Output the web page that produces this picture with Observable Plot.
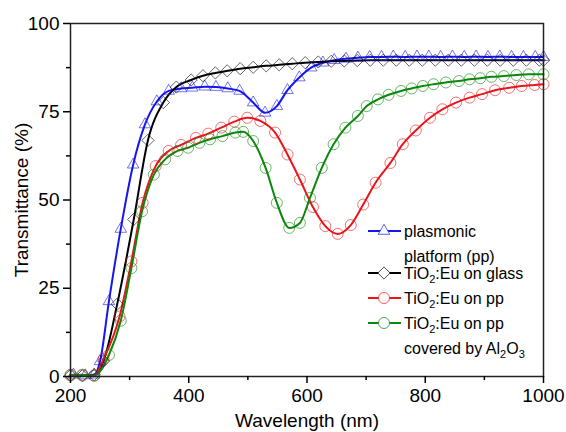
<!DOCTYPE html>
<html><head><meta charset="utf-8">
<script src="https://cdn.jsdelivr.net/npm/d3@7"></script>
<script src="https://cdn.jsdelivr.net/npm/@observablehq/plot@0.6"></script>
<style>
body{margin:0;background:#fff;font-family:"Liberation Sans",Arial,sans-serif;}
#wrap{position:relative;width:566px;height:432px;overflow:hidden;}
</style></head><body><div id="wrap"></div>
<script>
// Wavelength (nm) and transmittance (%) per series
const plasmonicWl = [205,225,240,250,265,285,306,326,346,366,387,406,427,446,466,486,509,529,549,567,587,607,627,646,666,686,706,726,746,766,786,806,826,846,866,886,906,926,946,966,986,1000];
const plasmonicT  = [0.5,0.3,0.5,4.3,21.3,41.8,60,71.4,77.9,80.9,81.6,81.8,82.1,82.0,81.6,80.9,77.6,74.7,76.6,81.1,84.7,87.5,88.9,89.6,90.0,90.3,90.5,90.5,90.6,90.5,90.6,90.6,90.5,90.6,90.5,90.6,90.5,90.6,90.5,90.5,90.5,90.5];

const glassWl = [200,220,240,256,279,307,331,357,379,404,424,445,465,487,509,531,553,575,597,619,641,663,685,707,729,751,773,795,817,839,861,883,905,927,949,971,993,1000];
const glassT  = [0.3,0.2,0.5,4.4,20.5,44.5,66.9,77.6,82,84,85.2,86.0,86.6,87.2,87.6,88.0,88.3,88.6,88.9,89.1,89.3,89.4,89.5,89.6,89.6,89.6,89.6,89.6,89.6,89.6,89.6,89.6,89.6,89.6,89.6,89.6,89.6,89.6];

const ppWl = [200,220,240,256,283,303,322,344,366,387,412,433,455,477,499,521,546,567,588,610,631,652,674,695,716,741,762,784,808,829,852,875,896,918,942,963,985,1000];
const ppT  = [0.5,0.3,0.3,5,17,32.6,49.2,59.6,63.9,65.6,67.6,68.8,70.5,72.2,73.3,72.4,69.1,62.9,55.8,48,42.6,40.4,42.9,48.7,54.9,60.5,65.8,69.7,73.3,75.7,77.6,79,80,81.1,81.8,82.3,82.6,82.8];

const alWl = [200,220,240,265,285,303,321,341,360,381,399,418,436,457,479,492,509,530,549,570,588,605,625,645,665,686,701,720,738,759,777,796,814,835,857,875,893,912,933,954,975,1000];
const alT  = [0.3,0.5,0.2,6.1,15.8,30.7,46.8,57.2,61.5,63.9,64.8,66.2,67.2,68.1,69.1,69.3,66.7,59.1,49.2,42.1,43.5,50.6,59.1,65.8,70.5,73.8,76.6,78.5,79.8,80.9,81.6,82.3,82.8,83.3,83.7,84.2,84.5,84.9,85.1,85.4,85.6,85.6];

const xTicks = [200,400,600,800,1000];
const xMinor = [300,500,700,900];
const yTicks = [0,25,50,75,100];
const yMinor = [12.5,37.5,62.5,87.5];

const series = [
  {key:"plasmonic", wl:plasmonicWl, t:plasmonicT, color:"#1515f0", symbol:"triangle2", sym:d3.symbolTriangle2},
  {key:"glass", wl:glassWl, t:glassT, color:"#000000", symbol:"diamond2", sym:d3.symbolDiamond2},
  {key:"pp", wl:ppWl, t:ppT, color:"#e8161b", symbol:"circle", sym:d3.symbolCircle},
  {key:"al", wl:alWl, t:alT, color:"#0c870c", symbol:"circle", sym:d3.symbolCircle}
];
const rows = s => s.wl.map((w,i)=>({wl:w, t:s.t[i]}));
const R = 5.5;
const fmt = d3.format("d");

const marks = [];
for (const s of series) {
  marks.push(Plot.lineY(rows(s), {x:"wl", y:"t", stroke:s.color, strokeWidth:2, curve:"monotone-x"}));
}
for (const s of series) {
  marks.push(Plot.dot(rows(s), {x:"wl", y:"t", stroke:s.color, strokeOpacity:0.6, strokeWidth:1, symbol:s.symbol, r:R}));
}
marks.push(Plot.frame({stroke:"#222", strokeWidth:1.5}));
marks.push(Plot.axisX(xTicks, {tickSize:7, tickPadding:5, strokeWidth:1.5, tickFormat:fmt, label:"Wavelength (nm)", labelAnchor:"center", labelOffset:50, labelArrow:"none", fontSize:19}));
marks.push(Plot.axisX(xMinor, {tickSize:4, strokeWidth:1.5, tickFormat:()=>"", label:null}));
marks.push(Plot.axisY(yTicks, {tickSize:7, tickPadding:4, strokeWidth:1.5, tickFormat:fmt, label:"Transmittance (%)", labelAnchor:"center", labelOffset:56, labelArrow:"none", fontSize:19}));
marks.push(Plot.axisY(yMinor, {tickSize:4, strokeWidth:1.5, tickFormat:()=>"", label:null}));

const chart = Plot.plot({
  width:566, height:432,
  marginLeft:70, marginRight:23, marginTop:23, marginBottom:56,
  style:{fontFamily:'"Liberation Sans", Arial, sans-serif', fontSize:"19px", color:"#000", background:"#fff", overflow:"visible"},
  x:{domain:[200,1000]},
  y:{domain:[0,100]},
  marks
});
document.getElementById("wrap").appendChild(chart);

// Legend (inside plot, lower right)
const svg = d3.select(chart);
const FS = 16;
const lg = svg.append("g").attr("font-family",'"Liberation Sans", Arial, sans-serif').attr("font-size",FS).attr("fill","#000").attr("text-anchor","start");
const items = [
  {s:series[0], y:231, lines:[["plasmonic"],["platform (pp)"]]},
  {s:series[1], y:273, lines:[["TiO","2",":Eu on glass"]]},
  {s:series[2], y:298, lines:[["TiO","2",":Eu on pp"]]},
  {s:series[3], y:323, lines:[["TiO","2",":Eu on pp"],["covered by Al","2","O","3"]]}
];
for (const it of items) {
  lg.append("line").attr("x1",368).attr("x2",401).attr("y1",it.y).attr("y2",it.y).attr("stroke",it.s.color).attr("stroke-width",2);
  lg.append("path").attr("d", d3.symbol(it.s.sym, Math.PI*R*R)()).attr("transform",`translate(384,${it.y})`)
    .attr("fill","#fff").attr("stroke",it.s.color).attr("stroke-opacity",0.7);
  it.lines.forEach((parts, li) => {
    const t = lg.append("text").attr("x",404).attr("y", it.y + 6 + li*25).attr("text-anchor","start");
    parts.forEach((p, pi) => {
      const sub = (p === "2" || p === "3");
      t.append("tspan").attr("font-size", sub ? 11 : FS).attr("dy", sub ? 4 : (pi>0 ? -4 : 0)).text(p);
    });
  });
}
</script>
</body></html>
